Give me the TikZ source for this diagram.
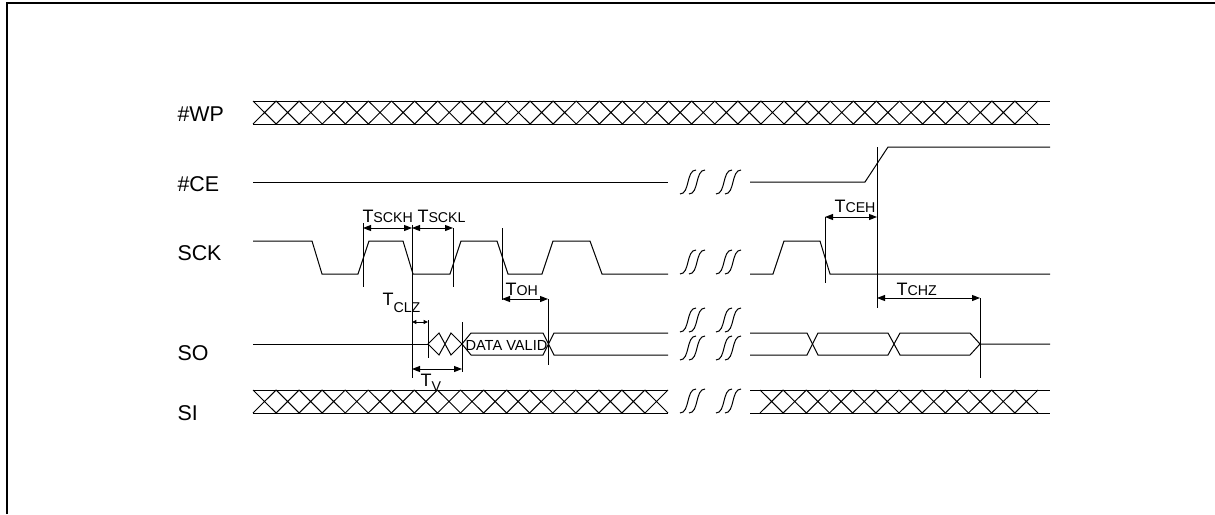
\documentclass[tikz,border=0pt]{standalone}
\usepackage{fontspec}
\setmainfont{Liberation Sans}
\usetikzlibrary{arrows.meta}

\newcommand{\tname}[1]{{\fontsize{9}{10}\selectfont T}{\fontsize{7.1}{8}\selectfont #1}}
\newcommand{\tlow}[2]{{\fontsize{9}{10}\selectfont T}\raisebox{-#2}{\fontsize{7.1}{8}\selectfont #1}}
% crossed bus: x from, x to, segments, top y, bottom y
\newcommand{\crossbus}[5]{%
  \pgfmathsetmacro{\seglen}{(#2-#1)/#3}
  \foreach \i in {1,...,#3}{
    \draw ({#1+(\i-1)*\seglen},#4) -- ({#1+\i*\seglen},#5)
          ({#1+(\i-1)*\seglen},#5) -- ({#1+\i*\seglen},#4);
  }}
% break mark: x, centre y
\newcommand{\brk}[2]{%
  \foreach \dx in {0,9}{
    \draw ({#1+\dx},{#2+12}) .. controls ({#1+\dx+10},{#2+12}) and ({#1+\dx+6},{#2-12}) .. ({#1+\dx+16},{#2-12});
  }}

\begin{document}
\begin{tikzpicture}[x=0.5pt, y=-0.5pt, line width=0.5pt, line join=miter,
    dim/.style={{Triangle[length=4pt,width=3pt]}-{Triangle[length=4pt,width=3pt]}},
    smalldim/.style={{Triangle[length=2.2pt,width=2pt]}-{Triangle[length=2.2pt,width=2pt]}},
    lbl/.style={anchor=base west, inner sep=0pt, font=\fontsize{10.7}{12}\selectfont},
    tl/.style={anchor=base west, inner sep=0pt}]
  \useasboundingbox (0,0) rectangle (1215,514);
  \draw[line width=1pt] (7,514) -- (7,3) -- (1215,3);

  \node[lbl] (wp) at (177,121) {\#WP};
  \node[lbl] (ce) at (177,191) {\#CE};
  \node[lbl] (sck) at (177,260) {SCK};
  \node[lbl] (so) at (177,360) {SO};
  \node[lbl] (si) at (177,420) {SI};

  % #WP
  \draw (253,101) -- (1050,101) (253,124) -- (1050,124);
  \crossbus{253}{1038}{34}{101}{124}

  % #CE
  \draw (253,182) -- (668,182);
  \draw (750,182) -- (865,182) -- (888,147) -- (1050,147);

  % SCK
  \draw (253,241) -- (312,241) -- (322,274) -- (358,274) -- (369,241) -- (403,241)
        -- (413,274) -- (450,274) -- (461,241) -- (497,241) -- (508,274) -- (542,274)
        -- (553,241) -- (590,241) -- (602,274) -- (668,274);
  \draw (750,274) -- (773,274) -- (784,241) -- (820,241) -- (830,274) -- (1050,274);

  % SO
  \draw (253,344) -- (428,344);
  \draw (428,344) -- (439,333) -- (451,355) -- (462,344) -- (451,333) -- (439,355) -- cycle;
  \draw (462,344) -- (471,333) -- (543,333) -- (554,355) -- (668,355);
  \draw (462,344) -- (471,355) -- (543,355) -- (554,333) -- (668,333);
  \draw (750,333) -- (807,333) -- (818,355) -- (888,355) -- (900,333) -- (970,333) -- (980,344) -- (1050,344);
  \draw (750,355) -- (807,355) -- (818,333) -- (888,333) -- (900,355) -- (970,355) -- (980,344);
  \node[tl, font=\fontsize{7.3}{8}\selectfont] (valid) at (465,350) {DATA VALID};

  % SI
  \draw (253,390) -- (668,390) (253,413) -- (668,413);
  \crossbus{253}{668}{18}{390}{413}
  \draw (750,390) -- (1050,390) (750,413) -- (1050,413);
  \crossbus{760}{1038}{12}{390}{413}

  % breaks
  \foreach \y in {182,262,320,348,401}{
    \brk{680}{\y}
    \brk{716}{\y}
  }

  % timing marks
  \coordinate (sckhA) at (363,228);
  \coordinate (sckhB) at (412,228);
  \coordinate (scklB) at (453,228);
  \coordinate (ohA) at (502,299);
  \coordinate (ohB) at (548,299);
  \coordinate (clzA) at (412,322);
  \coordinate (clzB) at (428,322);
  \coordinate (tvA) at (412,369);
  \coordinate (tvB) at (462,369);
  \coordinate (cehA) at (825,217);
  \coordinate (cehB) at (877,217);
  \coordinate (chzA) at (877,298);
  \coordinate (chzB) at (980,298);

  \draw (363,223) -- (363,287);
  \draw (412,225) -- (412,378);
  \draw (453,228) -- (453,287);
  \draw (502,228) -- (502,300);
  \draw (548,299) -- (548,365);
  \draw (428,320) -- (428,358);
  \draw (462,322) -- (462,372);
  \draw (825,217) -- (825,283);
  \draw (877,147) -- (877,308);
  \draw (980,298) -- (980,378);

  \draw[dim] (sckhA) -- (sckhB);
  \draw[dim] (sckhB) -- (scklB);
  \draw[dim] (ohA) -- (ohB);
  \draw[smalldim] (clzA) -- (clzB);
  \draw[dim] (tvA) -- (tvB);
  \draw[dim] (cehA) -- (cehB);
  \draw[dim] (chzA) -- (chzB);

  \node[tl] (tsckh) at (362,222) {\tname{SCKH}};
  \node[tl] (tsckl) at (417,222) {\tname{SCKL}};
  \node[tl] (toh) at (505,295) {\tname{OH}};
  \node[tl] (tclz) at (382,305) {\tlow{CLZ}{3.5pt}};
  \node[tl] (tv) at (420,386) {\tlow{V}{2.5pt}};
  \node[tl] (tceh) at (834,212) {\tname{CEH}};
  \node[tl] (tchz) at (896,295) {\tname{CHZ}};
\end{tikzpicture}
\end{document}
